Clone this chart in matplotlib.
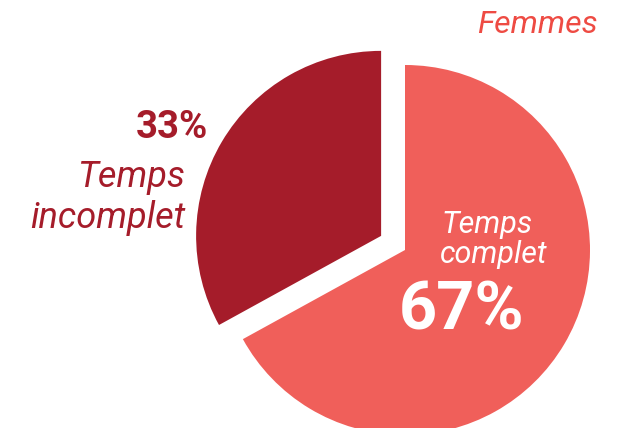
import matplotlib.pyplot as plt

# data
labels = ["Temps complet", "Temps incomplet"]
shares = [67, 33]
colors = ["#F05F5A", "#A51C2A"]
explode = [0, 0.15]

W, H = 633, 428
fig = plt.figure(figsize=(W / 100, H / 100), dpi=100)
ax = fig.add_axes([0, 0, 1, 1])

ax.pie(shares, colors=colors, explode=explode, startangle=90, counterclock=False,
       wedgeprops=dict(linewidth=0))

# pie centre at (405, 250) px, radius 185 px
cx, cy, r = 405, 250, 185
ax.set_xlim(-cx / r, (W - cx) / r)
ax.set_ylim(-(H - cy) / r, cy / r)
ax.set_aspect("auto")
ax.axis("off")


def put(px, py, s, **kw):
    fig.text(px / W, 1 - py / H, s, family="Roboto", va="baseline", **kw)


put(537, 33, "Femmes", ha="center", fontsize=23, style="italic", color="#EE4B43")
put(208, 138, "33%", ha="right", fontsize=27.5, weight="bold", color=colors[1])
put(185, 187, "Temps", ha="right", fontsize=26, style="italic", color=colors[1])
put(185, 228, "incomplet", ha="right", fontsize=26, style="italic", color=colors[1])
put(487, 233, "Temps", ha="center", fontsize=22, style="italic", color="white")
put(494, 263, "complet", ha="center", fontsize=22, style="italic", color="white")
put(462, 329, "67%", ha="center", fontsize=48, weight="bold", color="white")

fig.savefig("out.png", dpi=100)
